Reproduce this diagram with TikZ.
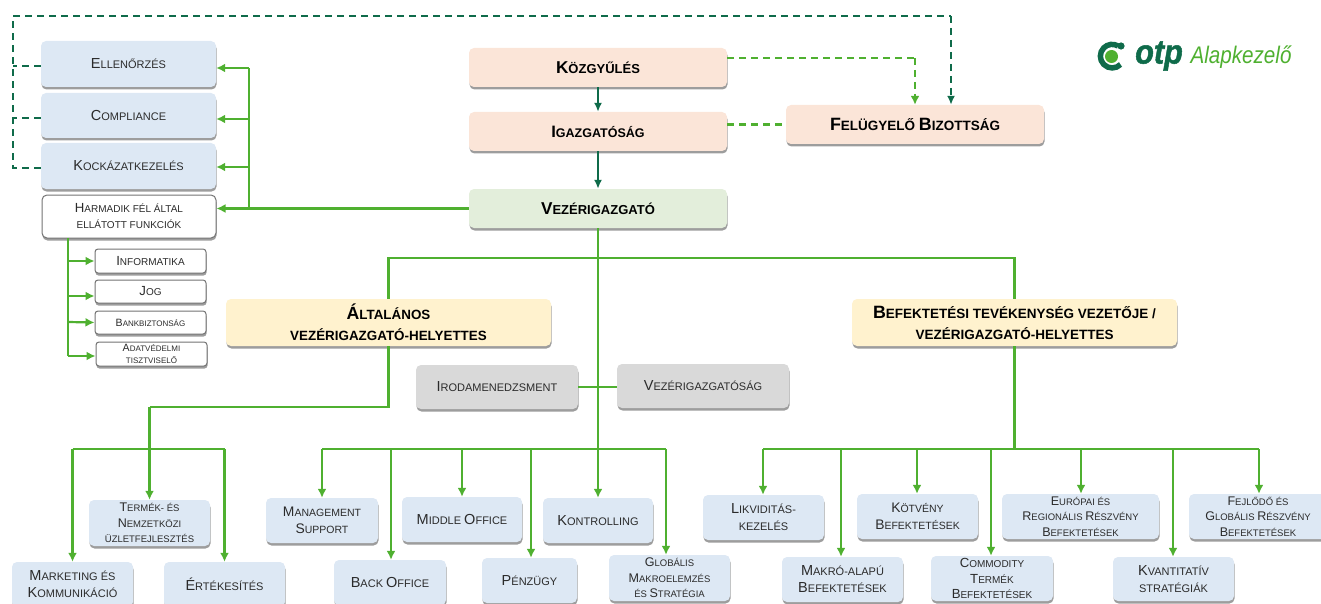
\documentclass[tikz,border=0pt]{standalone}
\usepackage{fontspec}
\setmainfont{Liberation Sans}
\newfontfamily\otpfont[FakeBold=1.5,ItalicFont={Liberation Sans Bold Italic}]{Liberation Sans Bold}
\usetikzlibrary{arrows.meta,shadows}
\definecolor{otpdark}{HTML}{0F6B4A}
\definecolor{otpgreen}{HTML}{4FB030}
\definecolor{boxblue}{HTML}{DDE8F4}
\definecolor{boxpeach}{HTML}{FBE5D8}
\definecolor{boxmint}{HTML}{E3EEDB}
\definecolor{boxyellow}{HTML}{FFF2CE}
\definecolor{boxgrey}{HTML}{D9D9D9}
\definecolor{inkgrey}{HTML}{2B2B2B}
\newcommand{\cp}[1]{\scalebox{1.32}{#1}}
\tikzset{
  boxsize/.style 2 args={minimum width=#1pt,minimum height=#2pt},
  txt/.style 2 args={font=\fontsize{#1}{#2}\selectfont},
  card/.style={rounded corners=5pt,inner sep=0pt,align=center,text=inkgrey,
    drop shadow={shadow xshift=0.5pt,shadow yshift=-2.5pt,opacity=.55,fill=black!70}},
  bluebox/.style={card,fill=boxblue,txt={11}{17}},
  greybox/.style={card,fill=boxgrey,txt={11}{17}},
  topbox/.style={card,text=black,txt={13}{17},execute at begin node=\bfseries},
  whitebox/.style={card,fill=white,draw=black!55,line width=1pt,txt={10}{16}},
  flow/.style={otpgreen,line width=2.2pt},
  flowarrow/.style={flow,-{Latex[length=9pt,width=9pt]}},
  flowdash/.style={flow,dash pattern=on 7pt off 5pt},
  darkline/.style={otpdark,line width=2.2pt},
  darkarrow/.style={darkline,-{Latex[length=9pt,width=8pt]}},
  darkdash/.style={darkline,dash pattern=on 7pt off 5pt}
}
\begin{document}
\begin{tikzpicture}[x=1pt,y=-1pt]
  \useasboundingbox (0,0) rectangle (1321,604);
  \draw
    (128.5,64) node[bluebox,boxsize={175}{46}] (ellenorzes){\cp{E}LLENŐRZÉS}
    (128.5,115.5) node[bluebox,boxsize={175}{45}] (compliance){\cp{C}OMPLIANCE}
    (128.5,166) node[bluebox,boxsize={175}{46}] (kockazat){\cp{K}OCKÁZATKEZELÉS}
    (129,216.5) node[whitebox,boxsize={174}{43}] (harmadik){\cp{H}ARMADIK FÉL ÁLTAL\\ELLÁTOTT FUNKCIÓK}
    (150.5,261) node[whitebox,boxsize={111}{24},rounded corners=3pt] (informatika){\cp{I}NFORMATIKA}
    (150.5,291.5) node[whitebox,boxsize={111}{23},rounded corners=3pt] (jog){\cp{J}OG}
    (150.5,322.5) node[whitebox,boxsize={111}{23},rounded corners=3pt,txt={8}{10}] (bankbizt){\cp{B}ANKBIZTONSÁG}
    (151.5,354) node[whitebox,boxsize={111}{24},rounded corners=3pt,txt={8}{12}] (adatvedelmi){\cp{A}DATVÉDELMI\\TISZTVISELŐ};
  \draw
    (598,67.5) node[topbox,fill=boxpeach,boxsize={258}{39}] (kozgyules){\cp{K}ÖZGYŰLÉS}
    (598,131.5) node[topbox,fill=boxpeach,boxsize={258}{39},txt={12.5}{17}] (igazgatosag){\cp{I}GAZGATÓSÁG}
    (598,208.5) node[topbox,fill=boxmint,boxsize={258}{39}] (vezer){\cp{V}EZÉRIGAZGATÓ}
    (915,124.5) node[topbox,fill=boxpeach,boxsize={258}{39},txt={13.5}{17}] (felugyelo){\cp{F}ELÜGYELŐ \cp{B}IZOTTSÁG}
    (388.5,322.5) node[topbox,fill=boxyellow,boxsize={325}{47},txt={13.4}{21}] (altalanos){\cp{Á}LTALÁNOS\\VEZÉRIGAZGATÓ-HELYETTES}
    (1014.5,322.5) node[topbox,fill=boxyellow,boxsize={325}{47},txt={13.5}{21}] (befektetesi){\cp{B}EFEKTETÉSI TEVÉKENYSÉG VEZETŐJE /\\VEZÉRIGAZGATÓ-HELYETTES}
    (497,387) node[greybox,boxsize={162}{44}] (iroda){\cp{I}RODAMENEDZSMENT}
    (703,386) node[greybox,boxsize={172}{44}] (vezerseg){\cp{V}EZÉRIGAZGATÓSÁG};
  \draw
    (149.5,523) node[bluebox,boxsize={121}{46},txt={9.5}{15.5}] (termek){\cp{T}ERMÉK- ÉS\\\cp{N}EMZETKÖZI\\ÜZLETFEJLESZTÉS}
    (72.5,584.5) node[bluebox,boxsize={121}{45}] (marketing){\cp{M}ARKETING ÉS\\\cp{K}OMMUNIKÁCIÓ}
    (224.5,584.5) node[bluebox,boxsize={121}{45}] (ertekesites){\cp{É}RTÉKESÍTÉS}
    (322,520.5) node[bluebox,boxsize={112}{45},txt={10.5}{17}] (management){\cp{M}ANAGEMENT\\\cp{S}UPPORT}
    (462,519.5) node[bluebox,boxsize={120}{45}] (middle){\cp{M}IDDLE \cp{O}FFICE}
    (598,520.5) node[bluebox,boxsize={110}{45}] (kontrolling){\cp{K}ONTROLLING}
    (390,582.5) node[bluebox,boxsize={112}{45}] (back){\cp{B}ACK \cp{O}FFICE}
    (529.5,580.5) node[bluebox,boxsize={95}{45}] (penzugy){\cp{P}ÉNZÜGY}
    (669.5,578) node[bluebox,boxsize={121}{46},txt={9.5}{15.5}] (globalis){\cp{G}LOBÁLIS\\\cp{M}AKROELEMZÉS\\ÉS \cp{S}TRATÉGIA}
    (763.5,517.5) node[bluebox,boxsize={121}{45}] (likviditas){\cp{L}IKVIDITÁS-\\KEZELÉS}
    (917.5,516.5) node[bluebox,boxsize={121}{45},txt={10.5}{17}] (kotveny){\cp{K}ÖTVÉNY\\\cp{B}EFEKTETÉSEK}
    (1080.5,516.5) node[bluebox,boxsize={157}{45},txt={9.5}{15.5}] (europai){\cp{E}URÓPAI ÉS\\\cp{R}EGIONÁLIS \cp{R}ÉSZVÉNY\\\cp{B}EFEKTETÉSEK}
    (1258,516.5) node[bluebox,boxsize={138}{45},txt={9.5}{15.5}] (fejlodo){\cp{F}EJLŐDŐ ÉS\\\cp{G}LOBÁLIS \cp{R}ÉSZVÉNY\\\cp{B}EFEKTETÉSEK}
    (842.5,579.5) node[bluebox,boxsize={121}{45}] (makro){\cp{M}AKRÓ-ALAPÚ\\\cp{B}EFEKTETÉSEK}
    (992,578.5) node[bluebox,boxsize={122}{45},txt={10}{15.5}] (commodity){\cp{C}OMMODITY\\\cp{T}ERMÉK\\\cp{B}EFEKTETÉSEK}
    (1173.5,579) node[bluebox,boxsize={121}{44}] (kvantitativ){\cp{K}VANTITATÍV\\STRATÉGIÁK};
  \begin{scope}
    \coordinate (topleft) at (13,16);
    \coordinate (topright) at (951,16);
    \draw[darkdash] (ellenorzes.west |- 0,66) -- (13,66);
    \draw[darkdash] (compliance.west |- 0,118) -- (13,118);
    \draw[darkdash] (kockazat.west |- 0,168) -- (13,168) -- (topleft) -- (topright);
    \draw[darkdash,-{Latex[length=9pt,width=8pt]}] (topright) -- (felugyelo.north -| topright);
    \draw[flowdash] (kozgyules.east |- 0,58) -- (915,58);
    \draw[flowdash,-{Latex[length=9pt,width=9pt]}] (915,58) -- (felugyelo.north);
    \draw[flowdash] (igazgatosag.east |- felugyelo.west) -- (felugyelo.west);
    \draw[darkarrow] (kozgyules) -- (igazgatosag);
    \draw[darkarrow] (igazgatosag) -- (vezer);
  \end{scope}
  \begin{scope}
    \coordinate (staffbus) at (249,209);
    \draw[flowarrow] (vezer.west) -- (harmadik.east |- vezer.west);
    \draw[flow] (staffbus) -- (249,68);
    \draw[flowarrow] (249,68) -- (ellenorzes.east |- 249,68);
    \draw[flowarrow] (249,119) -- (compliance.east |- 249,119);
    \draw[flowarrow] (249,167) -- (kockazat.east |- 249,167);
    \coordinate (thirdtop) at (68,238);
    \coordinate (thirdend) at (68,356);
    \draw[flow] (thirdtop) -- (thirdend);
    \draw[flowarrow] (68,261) -- (informatika.west);
    \draw[flowarrow] (68,296) -- (jog.west |- 68,296);
    \draw[flowarrow] (68,322) -- (bankbizt.west);
    \draw[flowarrow] (thirdend) -- (adatvedelmi.west |- thirdend);
  \end{scope}
  \begin{scope}
    \coordinate (mainbus) at (597,258);
    \draw[flowarrow] (vezer.south) -- (kontrolling.north);
    \draw[flow] (altalanos.north) -- (altalanos.north |- mainbus) -- (befektetesi.north |- mainbus) -- (befektetesi.north);
    \draw[flow] (iroda.east |- 0,387) -- (vezerseg.west |- 0,387);
    \coordinate (leftdrop) at (388.5,407);
    \coordinate (leftturn) at (149.5,407);
    \coordinate (leftbus) at (149.5,449);
    \coordinate (midbus) at (322,449);
    \coordinate (midend) at (666,449);
    \coordinate (rightbus) at (1014.5,449);
    \draw[flow] (altalanos.south) -- (leftdrop) -- (leftturn);
    \draw[flowarrow] (leftturn) -- (termek.north);
    \draw[flow] (marketing.north |- leftbus) -- (ertekesites.north |- leftbus);
    \foreach \name in {marketing,ertekesites}
      \draw[flowarrow] (\name.north |- leftbus) -- (\name.north);
    \draw[flow] (midbus) -- (midend);
    \foreach \name/\xpos in {management/322,back/391,middle/462,penzugy/531,globalis/666}
      \draw[flowarrow] (\xpos,449) -- (\name.north -| \xpos,449);
    \draw[flow] (befektetesi.south) -- (rightbus);
    \draw[flow] (763,449) -- (1259,449);
    \foreach \name/\xpos in {likviditas/763,makro/841,kotveny/917,commodity/991,europai/1081,kvantitativ/1173,fejlodo/1259}
      \draw[flowarrow] (\xpos,449) -- (\name.north -| \xpos,449);
  \end{scope}
  \draw[otpdark,line width=5.5pt] (1120.5,64.5) arc (-45:-300:11.8pt);
  \fill[otpdark] (1121,46) circle (3.6pt);
  \fill[otpgreen] (1111.5,56.5) circle (6.5pt);
  \draw
    (1159,56) node[text=otpdark,font=\fontsize{34}{34}\selectfont\otpfont\itshape] (otp){\scalebox{0.9}[1]{otp}}
    (1241,57) node[text=otpgreen,font=\fontsize{24}{24}\selectfont\itshape] (alapkezelo){\scalebox{0.86}[1]{Alapkezelő}};
\end{tikzpicture}
\end{document}
